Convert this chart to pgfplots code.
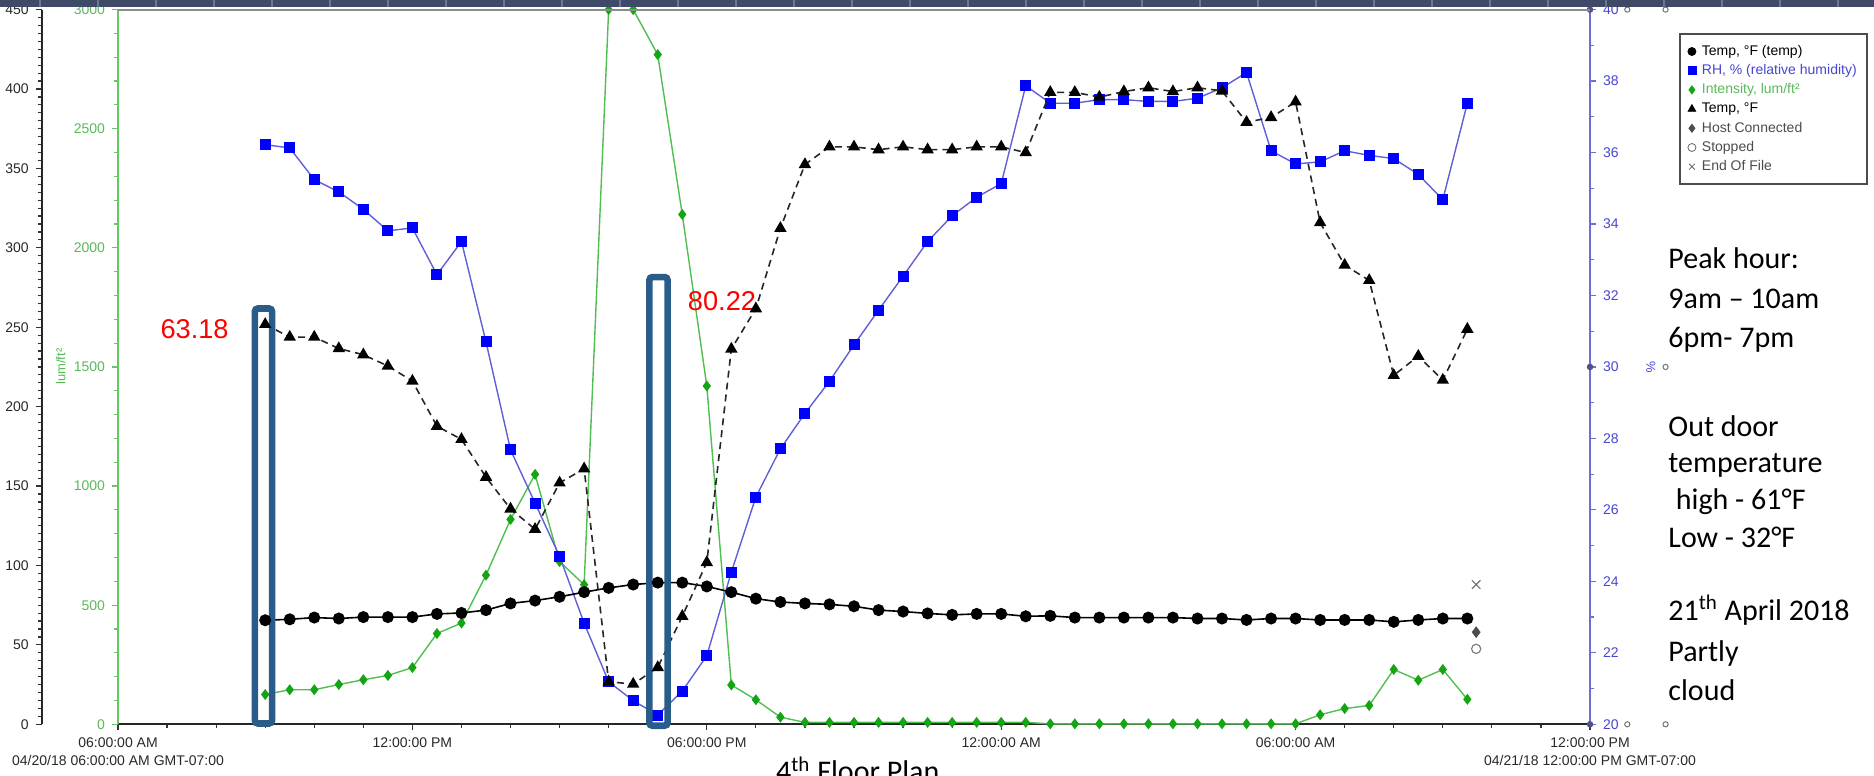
\documentclass[border=0pt]{standalone}
\usepackage{fontspec}
\setmainfont{Liberation Sans}
\newfontfamily\slidefont{Carlito}
\usepackage{pgfplots}
\usepackage{pgfplotstable}
\pgfplotsset{compat=1.18}

\definecolor{gline}{RGB}{80,190,80}
\definecolor{gmark}{RGB}{20,165,20}
\definecolor{gaxis}{RGB}{100,200,100}
\definecolor{gtext}{RGB}{90,185,90}
\definecolor{bline}{RGB}{95,95,215}
\definecolor{bmark}{RGB}{0,0,255}
\definecolor{baxis}{RGB}{110,110,215}
\definecolor{btext}{RGB}{70,70,210}
\definecolor{rectc}{RGB}{42,92,138}
\definecolor{band}{RGB}{62,74,104}
\definecolor{bandline}{RGB}{105,118,148}
\definecolor{ticktext}{RGB}{40,40,40}
\definecolor{dotc}{RGB}{80,80,140}

\pgfplotstableread{
x circ tri rh lum
3.0 65.5 251.8 36.22 125
3.5 66.1 243.8 36.13 145
4.0 67.2 243.8 35.24 145
4.5 66.6 236.6 34.90 167
5.0 67.5 232.7 34.41 187
5.5 67.5 225.6 33.81 205
6.0 67.5 216.1 33.89 238
6.5 69.5 187.7 32.58 381
7.0 70.1 179.4 33.51 425
7.5 71.9 155.6 30.70 626
8.0 76.1 135.6 27.68 860
8.5 77.9 122.8 26.19 1049
9.0 80.3 152.0 24.70 683
9.5 83.2 160.9 22.83 586
10.0 85.9 26.8 21.19 3000
10.5 88.0 25.3 20.66 3000
11.0 89.2 35.8 20.26 2811
11.5 89.2 68.0 20.93 2140
12.0 86.8 101.9 21.92 1420
12.5 83.2 236.3 24.26 165
13.0 79.1 261.7 26.36 103
13.5 77.0 312.3 27.71 30
14.0 76.1 352.5 28.70 8
14.5 75.5 363.6 29.60 8
15.0 74.3 363.6 30.62 8
15.5 71.9 361.8 31.59 8
16.0 71.0 363.6 32.54 8
16.5 69.8 361.8 33.51 8
17.0 68.9 361.8 34.23 8
17.5 69.5 363.6 34.75 8
18.0 69.5 363.6 35.13 8
18.5 68.0 360.0 37.87 8
19.0 68.3 397.9 37.38 2
19.5 67.2 397.9 37.38 2
20.0 67.2 394.9 37.48 2
20.5 67.2 398.4 37.48 2
21.0 67.2 400.8 37.43 2
21.5 67.2 398.4 37.43 2
22.0 66.6 400.8 37.52 2
22.5 66.6 398.8 37.81 2
23.0 65.7 379.1 38.24 2
23.5 66.6 382.1 36.05 2
24.0 66.6 391.9 35.68 2
24.5 65.7 315.9 35.74 40
25.0 65.7 289.1 36.05 66
25.5 65.7 279.5 35.92 79
26.0 64.5 219.7 35.83 230
26.5 65.7 231.8 35.39 185
27.0 66.6 216.7 34.68 230
27.5 66.6 248.8 37.38 105
}\data

\pgfplotsset{
  base/.style={scale only axis, width=736pt, height=357.35pt,
    at={(59pt,25.85pt)}, anchor=south west, xmin=0, xmax=30,
    /pgf/number format/assume math mode=true,
    /pgf/number format/set thousands separator={},
    tick label style={font=\fontsize{7}{9}\selectfont},
    tick align=outside, major tick length=3pt, minor tick length=2pt},
}

\begin{document}
\begin{tikzpicture}
\useasboundingbox (0,0) rectangle (937pt,388pt);

% black left scale
\begin{axis}[scale only axis, width=1pt, height=357.35pt,
  at={(20.85pt,25.85pt)}, anchor=south west,
  xmin=0, xmax=1, ymin=0, ymax=450,
  axis y line*=left, axis x line=none,
  y axis line style={-, black!85, line width=0.9pt},
  ytick={0,50,...,450}, minor y tick num=9,
  tick align=outside, major tick length=3pt, minor tick length=2pt,
  ytick style={black!80, line width=0.6pt},
  yticklabel style={ticktext, font=\fontsize{7}{9}\selectfont},
  /pgf/number format/assume math mode=true]
\addplot[draw=none] coordinates {(0,0)};
\end{axis}

% green axis + time axis
\begin{axis}[base, ymin=0, ymax=3000,
  axis x line*=bottom, axis y line*=left,
  x axis line style={-, black!85, line width=0.9pt},
  y axis line style={-, gaxis, line width=0.8pt},
  xtick={0,6,12,18,24,30},
  xticklabels={{06:00:00 AM\\04/20/18 06:00:00 AM GMT-07:00},12:00:00 PM,06:00:00 PM,12:00:00 AM,06:00:00 AM,{12:00:00 PM\\04/21/18 12:00:00 PM GMT-07:00}},
  xticklabel style={align=center, ticktext},
  minor x tick num=5,
  xtick style={black!80, line width=0.6pt},
  ytick={0,500,...,3000}, minor y tick num=4,
  ytick style={gaxis, line width=0.6pt},
  yticklabel style={gtext},
  ylabel={lum/ft²},
  ylabel style={at={(axis description cs:-0.0389,0.5003)}, anchor=center, gtext, font=\fontsize{6.5}{8}\selectfont}]
\addplot[gline, line width=0.7pt, mark=diamond*, mark size=2.2pt, mark options={gmark, fill=gmark}] table[x=x,y=lum]{\data};
\end{axis}

% blue axis
\begin{axis}[base, ymin=20, ymax=40, clip=false,
  axis y line*=right, axis x line=none,
  y axis line style={-, baxis, line width=0.8pt},
  ytick={20,22,...,40}, minor y tick num=1,
  ytick style={baxis, line width=0.6pt},
  yticklabel style={btext},
  ylabel={\%},
  ylabel style={at={(axis description cs:1.0414,0.5)}, anchor=center, rotate=180, btext, font=\fontsize{6.5}{8}\selectfont}]
\addplot[bline, line width=0.7pt, mark=square*, mark size=2.4pt, mark options={bmark, fill=bmark}] table[x=x,y=rh]{\data};
\addplot[only marks, mark=*, mark size=1.4pt, dotc] coordinates {(30,40) (30,30) (30,20)};
\addplot[only marks, mark=o, mark size=1.3pt, black!55, line width=0.5pt] coordinates {(30.76,40) (31.54,40) (31.54,30) (30.76,20) (31.54,20)};
\end{axis}

% black series
\begin{axis}[base, ymin=0, ymax=450, hide axis, clip=false]
\addplot[black, line width=0.8pt, mark=*, mark size=2.6pt] table[x=x,y=circ]{\data};
\addplot[black!85, line width=0.8pt, dash pattern=on 3.5pt off 2.5pt, mark=triangle*, mark size=2.8pt, mark options={solid, black}] table[x=x,y=tri]{\data};
\addplot[only marks, mark=x, mark size=3pt, black!55, line width=0.6pt] coordinates {(27.68,88)};
\addplot[only marks, mark=diamond*, mark size=2.6pt, black!70] coordinates {(27.68,58)};
\addplot[only marks, mark=o, mark size=2.3pt, black!50, line width=0.6pt] coordinates {(27.68,47.5)};
\draw[rectc, line width=3.3pt, rounded corners=1.5pt] (axis cs:2.79,0.5) rectangle (axis cs:3.14,261.8);
\draw[rectc, line width=3.3pt, rounded corners=1.5pt] (axis cs:10.83,-0.9) rectangle (axis cs:11.2,281.6);
\node[red, font=\fontsize{13.6}{15}\selectfont] at (axis cs:1.56,248.9) {63.18};
\node[red, font=\fontsize{13.6}{15}\selectfont] at (axis cs:12.31,266.5) {80.22};
\end{axis}

% legend
\begin{axis}[base, ymin=0, ymax=1, hide axis,
  legend style={at={(1.06046,0.96656)}, anchor=north west, draw=black!70, line width=0.9pt, fill=white,
    inner xsep=4pt, inner ysep=4pt, font=\fontsize{7}{8}\selectfont,
    row sep=0.5pt, column sep=2pt,
    nodes={inner sep=1pt, text height=5.5pt, text depth=1.6pt, anchor=west}},
  legend cell align=left,
  legend image code/.code={\draw[#1, line width=0.4pt] plot coordinates {(2.5pt,0pt)};}]
\addlegendimage{only marks, mark=*, mark size=2pt, black}
\addlegendentry{Temp, °F (temp)}
\addlegendimage{only marks, mark=square*, mark size=2pt, bmark}
\addlegendentry{\textcolor{btext}{RH, \% (relative humidity)}}
\addlegendimage{only marks, mark=diamond*, mark size=2pt, gmark}
\addlegendentry{\textcolor{gtext}{Intensity, lum/ft²}}
\addlegendimage{only marks, mark=triangle*, mark size=2.2pt, black}
\addlegendentry{Temp, °F}
\addlegendimage{only marks, mark=diamond*, mark size=2pt, black!70}
\addlegendentry{\textcolor{black!70}{Host Connected}}
\addlegendimage{only marks, mark=o, mark size=2pt, black!60}
\addlegendentry{\textcolor{black!70}{Stopped}}
\addlegendimage{only marks, mark=x, mark size=2pt, black!60}
\addlegendentry{\textcolor{black!70}{End Of File}}
\end{axis}

% top band
\fill[band] (0,384.25pt) rectangle (937pt,388pt);
\foreach \k in {0,...,32} {\draw[bandline, line width=0.8pt] (20pt+29pt*\k,384.25pt) -- (20pt+29pt*\k,388pt);}
\draw[black!45, line width=1pt] (59pt,383.2pt) -- (795pt,383.2pt);

% slide text
\begin{scope}[every node/.style={anchor=base west, inner sep=0pt, font=\slidefont\fontsize{15}{18}\selectfont}]
\node at (834pt,253.7pt) {Peak hour:};
\node at (834pt,233.95pt) {9am – 10am};
\node at (834pt,214.45pt) {6pm- 7pm};
\node at (834pt,169.85pt) {Out door};
\node at (834pt,151.9pt) {temperature};
\node at (834pt,133pt) {\hspace{0.25em}high - 61°F};
\node at (834pt,114.25pt) {Low - 32°F};
\node at (834pt,77.95pt) {21\textsuperscript{th} April 2018};
\node at (834pt,57.45pt) {Partly};
\node at (834pt,37.5pt) {cloud};
\end{scope}
\node[anchor=base, inner sep=0pt, font=\slidefont\fontsize{15}{18}\selectfont] at (428.9pt,-3pt) {4\textsuperscript{th} Floor Plan};
\end{tikzpicture}
\end{document}
